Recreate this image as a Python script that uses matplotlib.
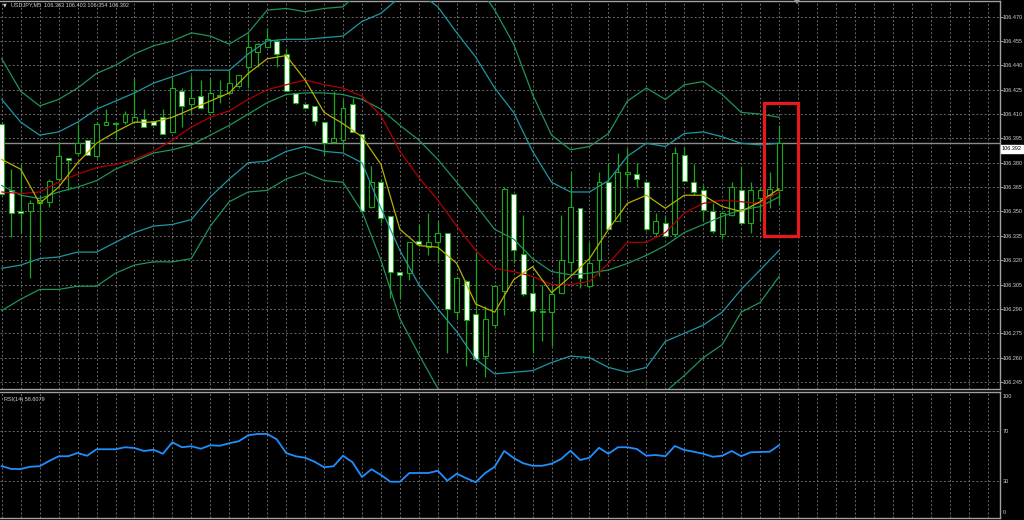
import matplotlib
matplotlib.use("Agg")
import matplotlib.pyplot as plt
from matplotlib.patches import Rectangle, Polygon
from matplotlib.transforms import blended_transform_factory
import numpy as np

# ---------------- data ----------------
symbol = "USDJPY,M5"
rsi_label = "RSI(14) 58.6079"
price_ticks = [106.245, 106.260, 106.275, 106.290, 106.305, 106.320, 106.335, 106.350,
               106.365, 106.380, 106.395, 106.410, 106.425, 106.440, 106.455, 106.470]
last_price = 106.392

opens = [106.404, 106.363, 106.350, 106.350, 106.355, 106.356, 106.370, 106.383, 106.386, 106.394,
         106.384, 106.403, 106.404, 106.405, 106.405, 106.407, 106.406, 106.408, 106.399, 106.424,
         106.416, 106.421, 106.411, 106.421, 106.423, 106.427, 106.439, 106.448, 106.451, 106.455,
         106.447, 106.423, 106.416, 106.415, 106.405, 106.393, 106.394, 106.416, 106.398, 106.353,
         106.368, 106.347, 106.313, 106.312, 106.332, 106.328, 106.331, 106.337, 106.288, 106.307,
         106.287, 106.261, 106.280, 106.301, 106.361, 106.324, 106.300, 106.288, 106.288, 106.300,
         106.319, 106.352, 106.304, 106.320, 106.368, 106.344, 106.373, 106.373, 106.368, 106.337,
         106.343, 106.336, 106.385, 106.368, 106.363, 106.350, 106.336, 106.348, 106.363, 106.343,
         106.358, 106.360, 106.363]
highs = [106.405, 106.376, 106.379, 106.357, 106.360, 106.370, 106.393, 106.383, 106.404, 106.394,
         106.405, 106.413, 106.405, 106.412, 106.432, 106.413, 106.406, 106.413, 106.432, 106.426,
         106.434, 106.431, 106.432, 106.431, 106.437, 106.434, 106.459, 106.454, 106.463, 106.456,
         106.450, 106.423, 106.416, 106.415, 106.405, 106.424, 106.419, 106.420, 106.398, 106.378,
         106.370, 106.347, 106.313, 106.331, 106.342, 106.349, 106.344, 106.337, 106.310, 106.308,
         106.325, 106.292, 106.304, 106.365, 106.361, 106.348, 106.309, 106.305, 106.304, 106.348,
         106.374, 106.352, 106.331, 106.374, 106.380, 106.386, 106.389, 106.380, 106.369, 106.349,
         106.348, 106.390, 106.390, 106.379, 106.366, 106.355, 106.350, 106.368, 106.378, 106.368,
         106.365, 106.374, 106.403]
lows = [106.360, 106.334, 106.337, 106.309, 106.331, 106.353, 106.369, 106.363, 106.385, 106.385,
        106.383, 106.403, 106.394, 106.404, 106.405, 106.402, 106.403, 106.398, 106.399, 106.402,
        106.410, 106.413, 106.411, 106.417, 106.423, 106.426, 106.426, 106.439, 106.451, 106.439,
        106.424, 106.416, 106.414, 106.403, 106.385, 106.392, 106.388, 106.399, 106.350, 106.352,
        106.343, 106.297, 106.297, 106.308, 106.330, 106.323, 106.318, 106.263, 106.284, 106.255,
        106.259, 106.248, 106.278, 106.286, 106.318, 106.298, 106.263, 106.270, 106.267, 106.300,
        106.313, 106.303, 106.303, 106.310, 106.339, 106.344, 106.365, 106.365, 106.338, 106.334,
        106.335, 106.335, 106.369, 106.360, 106.344, 106.337, 106.333, 106.347, 106.342, 106.337,
        106.344, 106.352, 106.354]
closes = [106.361, 106.349, 106.349, 106.355, 106.357, 106.369, 106.384, 106.382, 106.392, 106.385,
          106.404, 106.405, 106.404, 106.410, 106.408, 106.402, 106.403, 106.398, 106.426, 106.415,
          106.420, 106.414, 106.423, 106.422, 106.429, 106.434, 106.451, 106.453, 106.456, 106.447,
          106.424, 106.417, 106.414, 106.406, 106.392, 106.395, 106.414, 106.399, 106.350, 106.368,
          106.346, 106.313, 106.311, 106.331, 106.330, 106.331, 106.337, 106.290, 106.309, 106.283,
          106.259, 106.284, 106.304, 106.364, 106.326, 106.299, 106.289, 106.289, 106.299, 106.320,
          106.353, 106.309, 106.318, 106.368, 106.339, 106.374, 106.374, 106.370, 106.339, 106.344,
          106.335, 106.386, 106.369, 106.362, 106.351, 106.338, 106.349, 106.365, 106.343, 106.363,
          106.363, 106.364, 106.392]

# indicator lines, read at every second bar (bars 0, 2, 4, ... 82)
ma_fast = [106.382, 106.376, 106.355, 106.365, 106.380, 106.392, 106.399, 106.405, 106.405, 106.408,
           106.413, 106.418, 106.423, 106.435, 106.444, 106.446, 106.431, 106.411, 106.404, 106.396,
           106.379, 106.339, 106.329, 106.328, 106.318, 106.293, 106.288, 106.308, 106.316, 106.300,
           106.310, 106.321, 106.339, 106.355, 106.360, 106.352, 106.360, 106.360, 106.353, 106.350,
           106.356, 106.364]
ma_slow = [106.362, 106.361, 106.362, 106.368, 106.373, 106.377, 106.379, 106.382, 106.387, 106.394,
           106.402, 106.408, 106.412, 106.419, 106.425, 106.428, 106.431, 106.428, 106.426, 106.421,
           106.409, 106.387, 106.371, 106.357, 106.341, 106.326, 106.315, 106.313, 106.310, 106.305,
           106.305, 106.307, 106.318, 106.331, 106.331, 106.337, 106.349, 106.355, 106.357, 106.356,
           106.355, 106.362]
bb_mid = [106.366, 106.360, 106.358, 106.362, 106.365, 106.369, 106.376, 106.381, 106.386, 106.388,
          106.391, 106.397, 106.403, 106.410, 106.417, 106.422, 106.423, 106.423, 106.422, 106.419,
          106.413, 106.403, 106.394, 106.382, 106.368, 106.354, 106.339, 106.333, 106.321, 106.313,
          106.311, 106.312, 106.314, 106.318, 106.323, 106.329, 106.337, 106.342, 106.347, 106.351,
          106.353, 106.359]
bb2_upper = [106.419, 106.405, 106.397, 106.399, 106.405, 106.413, 106.418, 106.423, 106.429, 106.433,
             106.437, 106.437, 106.437, 106.447, 106.455, 106.456, 106.456, 106.457, 106.458, 106.467,
             106.472, 106.482, 106.485, 106.476, 106.460, 106.445, 106.426, 106.411, 106.387, 106.368,
             106.362, 106.362, 106.369, 106.384, 106.392, 106.390, 106.398, 106.399, 106.396, 106.392,
             106.391, 106.392]
bb2_lower = [106.315, 106.317, 106.321, 106.322, 106.325, 106.325, 106.331, 106.337, 106.341, 106.342,
             106.345, 106.359, 106.370, 106.380, 106.381, 106.387, 106.390, 106.387, 106.386, 106.380,
             106.352, 106.326, 106.305, 106.290, 106.276, 106.259, 106.250, 106.251, 106.252, 106.257,
             106.261, 106.260, 106.254, 106.251, 106.254, 106.270, 106.275, 106.280, 106.288, 106.302,
             106.314, 106.326]
bb3_upper = [106.444, 106.424, 106.415, 106.419, 106.426, 106.435, 106.440, 106.447, 106.452, 106.455,
             106.460, 106.458, 106.453, 106.460, 106.474, 106.475, 106.473, 106.475, 106.476, 106.487,
             106.504, 106.519, 106.522, 106.523, 106.505, 106.491, 106.474, 106.453, 106.422, 106.397,
             106.388, 106.390, 106.398, 106.418, 106.426, 106.419, 106.428, 106.430, 106.422, 106.411,
             106.410, 106.408]
bb3_lower = [106.289, 106.296, 106.302, 106.302, 106.304, 106.304, 106.312, 106.317, 106.319, 106.319,
             106.321, 106.341, 106.356, 106.362, 106.363, 106.370, 106.374, 106.369, 106.368, 106.350,
             106.320, 106.284, 106.262, 106.241, 106.230, 106.217, 106.204, 106.213, 106.220, 106.230,
             106.236, 106.235, 106.230, 106.218, 106.220, 106.239, 106.249, 106.260, 106.268, 106.288,
             106.294, 106.310]

rsi = [42.0, 39.6, 39.6, 41.4, 41.8, 46.0, 49.8, 49.8, 52.4, 50.2,
       55.4, 55.4, 55.4, 57.0, 56.4, 54.0, 55.0, 51.8, 61.0, 57.0,
       57.8, 55.8, 58.6, 58.2, 60.2, 61.8, 66.6, 67.6, 67.6, 63.4,
       52.4, 49.8, 48.6, 45.4, 41.0, 41.8, 50.2, 45.0, 33.2, 39.4,
       34.8, 29.4, 29.4, 36.4, 36.4, 36.4, 38.2, 30.2, 35.8, 32.2,
       29.0, 36.4, 41.4, 54.0, 48.4, 44.2, 42.2, 42.2, 43.8, 47.6,
       54.2, 46.8, 48.6, 56.6, 51.8, 57.0, 57.0, 55.6, 50.2, 50.8,
       49.8, 58.0, 54.8, 53.4, 51.8, 49.4, 50.2, 54.0, 49.8, 53.0,
       53.2, 53.4, 58.6079]
rsi_levels = [30, 70]

# ---------------- style ----------------
W, H = 1024, 520
BG = "black"
GRID = "#6a6a6a"
SPINE = "#a0a0a0"
TXT = "#d0d0d0"
GREEN = "#1aa81a"
YELLOW = "#b8b000"
RED = "#b00000"
TEAL = "#1e98a0"
OUTER = "#1f9458"
BLUE = "#1e8fff"
FS = 4.0

plt.rcParams["font.family"] = ["Liberation Sans", "DejaVu Sans"]
fig = plt.figure(figsize=(W / 100, H / 100), dpi=100, facecolor=BG)


def px_axes(x0, y0, x1, y1):
    return fig.add_axes([x0 / W, 1 - y1 / H, (x1 - x0) / W, (y1 - y0) / H])


ax = px_axes(0, 0.5, 999.5, 389)
rx = px_axes(0, 392, 999.5, 518)

n = len(opens)
xs = np.arange(n)
band_x = np.arange(0, n, 2)

for a in (ax, rx):
    a.set_facecolor(BG)
    a.set_xlim(-0.185, 105.25)
    a.set_xticks(np.arange(0, 105, 2))
    a.tick_params(axis="x", length=0, labelbottom=False)
    a.grid(True, axis="x", color=GRID, lw=0.7, ls=(0, (2, 2.2)))
    a.spines["left"].set_visible(False)
    for s in ("top", "bottom", "right"):
        a.spines[s].set_color(SPINE)
        a.spines[s].set_linewidth(1.0)
    a.set_axisbelow(True)

# ---- main price panel ----
ax.set_ylim(106.2407, 106.4799)
ax.yaxis.tick_right()
ax.set_yticks(price_ticks)
ax.set_yticklabels([f"{p:.3f}" for p in price_ticks])
ax.tick_params(axis="y", colors=SPINE, labelcolor=TXT, labelsize=FS, length=1.8, width=0.7, pad=0.5)
ax.grid(True, axis="y", color=GRID, lw=0.7, ls=(0, (2, 2.2)))

ax.axhline(last_price, color="#8c8c8c", lw=1.0, zorder=1)

# wicks
ax.vlines(xs, lows, highs, color=GREEN, lw=0.9, zorder=2)
# bodies
bw = 0.52
for i in range(n):
    o, c = opens[i], closes[i]
    lo = min(o, c)
    h = max(abs(c - o), 0.0003)
    face = "white" if c < o else "black"
    ax.add_patch(Rectangle((xs[i] - bw / 2, lo), bw, h, facecolor=face,
                           edgecolor=GREEN, lw=0.8, zorder=3))

# indicator lines
ax.plot(band_x, bb3_upper, color=OUTER, lw=0.9, zorder=4)
ax.plot(band_x, bb3_lower, color=OUTER, lw=0.9, zorder=4)
ax.plot(band_x, bb_mid, color=OUTER, lw=0.9, zorder=4)
ax.plot(band_x, bb2_upper, color=TEAL, lw=0.9, zorder=4)
ax.plot(band_x, bb2_lower, color=TEAL, lw=0.9, zorder=4)
ax.plot(band_x, ma_slow, color=RED, lw=0.9, zorder=5)
ax.plot(band_x, ma_fast, color=YELLOW, lw=0.9, zorder=5)

# highlight box around the last bar
box_x = (80.38, 84.0)
box_y = (106.3347, 106.4168)
ax.add_patch(Rectangle((box_x[0], box_y[0]), box_x[1] - box_x[0], box_y[1] - box_y[0],
                       fill=False, edgecolor="#e8191c", lw=2.3, zorder=6))

# current price label box on the axis
tr = blended_transform_factory(ax.transAxes, ax.transData)
ax.text(1.0025, last_price - 0.0035, f"{last_price:.3f}", transform=tr, fontsize=FS,
        color="black", va="center", ha="left", zorder=10, clip_on=False,
        bbox=dict(boxstyle="square,pad=0.2", facecolor="white", edgecolor="white"))

# header
fig.text(3 / W, 1 - 5 / H, "\u25bc", fontsize=3.5, color=TXT, va="center", ha="left",
         family="DejaVu Sans")
fig.text(11 / W, 1 - 5 / H,
         f"{symbol}  {opens[-1]:.3f} {highs[-1]:.3f} {lows[-1]:.3f} {closes[-1]:.3f}",
         fontsize=FS, color=TXT, va="center", ha="left")
# chart shift marker
fig.patches.append(Polygon([[794 / W, 1.0], [800 / W, 1.0], [797 / W, 1 - 4 / H]],
                           closed=True, transform=fig.transFigure, facecolor="#9a9a9a",
                           edgecolor="none"))

# ---- RSI panel ----
rx.set_ylim(0.4, 101.2)
rx.set_yticks(rsi_levels)
rx.yaxis.tick_right()
rx.tick_params(axis="y", colors=SPINE, labelcolor=TXT, labelsize=FS, length=0, pad=2.2)
rx.grid(True, axis="y", color=GRID, lw=0.7, ls=(0, (2, 2.2)))
rx.plot(xs, rsi, color=BLUE, lw=1.3, zorder=4)
rx.text(1.003, 0.985, "100", transform=rx.transAxes, fontsize=FS, color=TXT, va="top", ha="left")
rx.text(1.003, 0.02, "0", transform=rx.transAxes, fontsize=FS, color=TXT, va="bottom", ha="left")
rx.text(0.004, 0.96, rsi_label, transform=rx.transAxes, fontsize=FS, color=TXT,
        va="top", ha="left")

fig.savefig("out.png", dpi=100, facecolor=BG)
